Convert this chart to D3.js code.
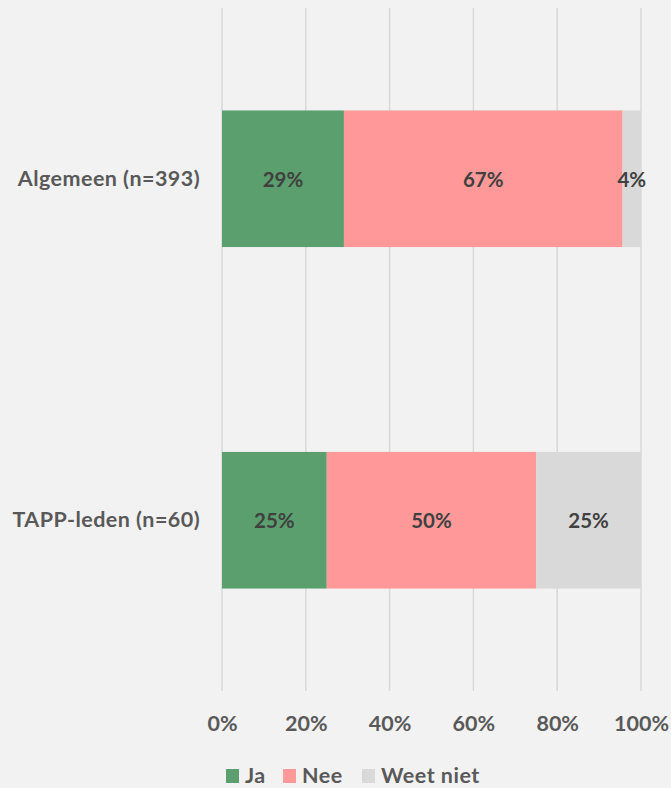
<!DOCTYPE html>
<html><head><meta charset="utf-8">
<script src="https://cdn.jsdelivr.net/npm/d3@7"></script>
<style>
html,body{margin:0;padding:0;background:#f2f2f2;}
svg{display:block;font-family:Lato,"Open Sans",sans-serif;font-weight:bold;}
</style></head>
<body>
<svg id="chart" width="671" height="788"></svg>
<script>
const categories = ["Algemeen (n=393)", "TAPP-leden (n=60)"];
const seriesNames = ["Ja", "Nee", "Weet niet"];
const ja = [29.1, 25];
const nee = [66.5, 50];
const weetNiet = [4.4, 25];
const tickValues = [0, 20, 40, 60, 80, 100];
const colors = ["#5b9f6e", "#ff9999", "#d9d9d9"];

const FS = 21.5;
const svg = d3.select("#chart");
const m = {left: 222, right: 30, top: 8, bottom: 97};
const W = 671, H = 788;
const x = d3.scaleLinear().domain([0, 100]).range([m.left, W - m.right]);
const y = d3.scaleBand().domain(categories).range([m.top, H - m.bottom]).paddingInner(0.6).paddingOuter(0.3);

const rows = categories.map((c, i) => ({cat: c, "Ja": ja[i], "Nee": nee[i], "Weet niet": weetNiet[i]}));
const stack = d3.stack().keys(seriesNames)(rows);

// gridlines
svg.append("g").selectAll("line").data(tickValues).join("line")
  .attr("x1", d => x(d)).attr("x2", d => x(d))
  .attr("y1", m.top).attr("y2", H - m.bottom)
  .attr("stroke", "#d9d9d9").attr("stroke-width", 1.5);

// bars
const g = svg.append("g");
stack.forEach((s, si) => {
  g.append("g").selectAll("rect").data(s).join("rect")
    .attr("x", d => x(d[0])).attr("width", d => x(d[1]) - x(d[0]))
    .attr("y", d => y(d.data.cat)).attr("height", y.bandwidth())
    .attr("fill", colors[si]);
  g.append("g").selectAll("text").data(s).join("text")
    .attr("x", d => (x(d[0]) + x(d[1])) / 2)
    .attr("y", d => y(d.data.cat) + y.bandwidth() / 2)
    .attr("text-anchor", "middle").attr("dominant-baseline", "central")
    .attr("fill", "#404040").attr("font-size", 20.5)
    .text(d => Math.round(d[1] - d[0]) + "%");
});

// y axis labels
const yAxis = d3.axisLeft(y).tickSize(0).tickPadding(22);
svg.append("g").attr("transform", `translate(${m.left},0)`).call(yAxis)
  .call(a => a.select(".domain").remove())
  .call(a => a.selectAll("text").attr("font-size", FS).attr("fill", "#595959")
     .attr("letter-spacing", 0.45)
     .attr("font-family", "Lato, 'Open Sans', sans-serif").attr("font-weight", "bold"));

// x axis labels
const xAxis = d3.axisBottom(x).tickValues(tickValues).tickSize(0).tickPadding(25).tickFormat(d => d + "%");
svg.append("g").attr("transform", `translate(0,${H - m.bottom})`).call(xAxis)
  .call(a => a.select(".domain").remove())
  .call(a => a.selectAll("text").attr("font-size", FS).attr("fill", "#595959")
     .attr("font-family", "Lato, 'Open Sans', sans-serif").attr("font-weight", "bold"));

// legend
const legendX = [226, 283, 362];
const lg = svg.append("g");
seriesNames.forEach((n, i) => {
  lg.append("rect").attr("x", legendX[i]).attr("y", 769).attr("width", 13).attr("height", 14).attr("fill", colors[i]);
  lg.append("text").attr("x", legendX[i] + 19).attr("y", 783).attr("letter-spacing", 0.5)
    .attr("font-size", FS).attr("fill", "#595959").text(n);
});
</script>
</body></html>
